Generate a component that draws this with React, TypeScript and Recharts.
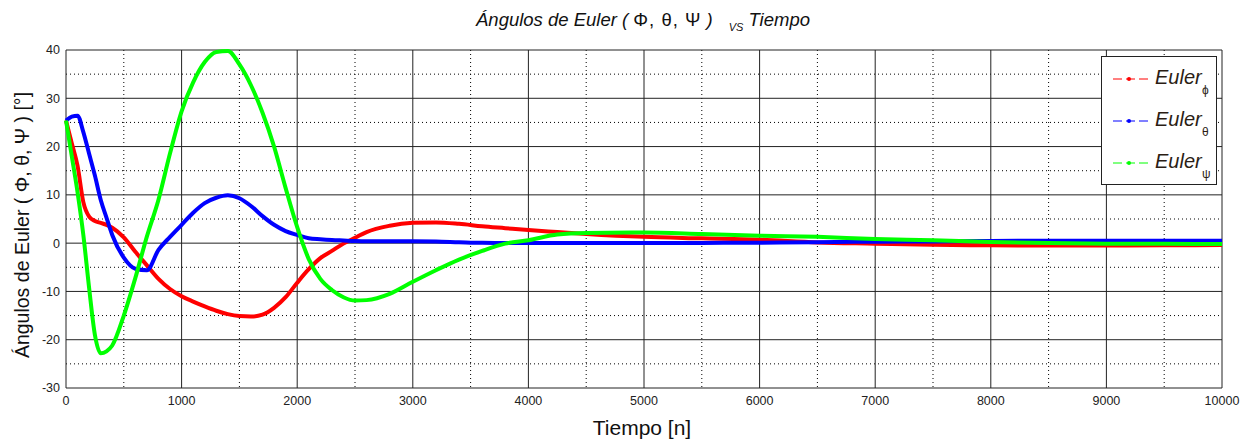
import React from 'react';
import { LineChart, Line, XAxis, YAxis, CartesianGrid, Legend } from 'recharts';

// tiempo [n]
const time = [
  0, 50, 100, 150, 200, 250, 300, 350, 400, 500, 600, 700, 800, 900, 1000, 1100, 1200, 1300, 1400,
  1500, 1600, 1700, 1800, 1900, 2000, 2100, 2200, 2300, 2400, 2500, 2600, 2800, 3000, 3200, 3400,
  3600, 3800, 4000, 4250, 4500, 5000, 5500, 6000, 6500, 7000, 7500, 8000, 8500, 9000, 9500, 10000,
];

const phi = [
  25.4, 20.7, 16, 8.5, 5.5, 4.6, 4.2, 3.8, 3.2, 1.2, -1.8, -4.6, -7.4, -9.5, -11, -12.1, -13.1, -14,
  -14.7, -15.1, -15.2, -14.8, -13.4, -11.2, -8.2, -5.4, -3.1, -1.6, -0.1, 1.1, 2.3, 3.6, 4.2, 4.3, 4.0,
  3.5, 3.1, 2.7, 2.3, 1.9, 1.3, 1.0, 0.7, 0.15, -0.1, -0.35, -0.45, -0.5, -0.5, -0.45, -0.4,
];

const theta = [
  25.4, 26.2, 26.4, 23, 18.5, 14, 9, 5.3, 1.7, -3, -5.3, -5.6, -1.4, 1.3, 3.8, 6.3, 8.3, 9.4, 9.9,
  9.3, 7.7, 5.6, 3.8, 2.5, 1.7, 1.0, 0.8, 0.65, 0.55, 0.45, 0.4, 0.4, 0.4, 0.35, 0.2, 0.07, 0.05, 0.05,
  0.05, 0.05, 0.05, 0.05, 0.1, 0.2, 0.3, 0.35, 0.45, 0.5, 0.5, 0.5, 0.5,
];

const psi = [
  25.4, 18, 10.5, 1.7, -9.3, -19, -22.8, -22.4, -21.2, -15, -7.2, 1.4, 9, 18.6, 27.3, 33.3, 37.5, 39.6,
  39.8, 37, 32.7, 27, 20, 11.4, 3.3, -3.3, -7.4, -9.7, -11.2, -11.9, -11.8, -10.5, -8, -5.6, -3.4, -1.6,
  -0.1, 0.6, 1.8, 2.1, 2.2, 1.9, 1.55, 1.3, 0.86, 0.6, 0.25, 0.05, -0.1, -0.15, -0.17,
];

const xTicks = [0, 1000, 2000, 3000, 4000, 5000, 6000, 7000, 8000, 9000, 10000];
const yTicks = [-30, -20, -10, 0, 10, 20, 30, 40];
const xMinor = [500, 1500, 2500, 3500, 4500, 5500, 6500, 7500, 8500, 9500];
const yMinor = [-25, -15, -5, 5, 15, 25, 35];

const seriesKeys = ['phi', 'theta', 'psi'];
const subs: Record<string, string> = { phi: 'ϕ', theta: 'θ', psi: 'ψ' };

const data = time.map((t, i) => ({ t, phi: phi[i], theta: theta[i], psi: psi[i] }));

const font = 'Arial, "Liberation Sans", sans-serif';
const tickStyle = { fill: '#222', fontSize: 12.5, fontFamily: font };

const EulerLegend = (props: any) => {
  const items = props.payload || [];
  const colorOf = (k: string) => (items.find((p: any) => p.dataKey === k) || {}).color;
  return (
    <div
      style={{
        width: 114,
        height: 127,
        border: '1px solid #222',
        background: '#fff',
        position: 'relative',
        fontFamily: font,
      }}
    >
      {seriesKeys.map((k, i) => (
        <div key={k} style={{ position: 'absolute', left: 0, top: 6 + i * 42, width: 114, height: 40 }}>
          <svg width={40} height={40} style={{ position: 'absolute', left: 10, top: 0 }}>
            <line x1={1} y1={16} x2={38} y2={16} stroke={colorOf(k)} strokeWidth={1} strokeDasharray="9 4" />
            <circle cx={17} cy={16} r={2} fill={colorOf(k)} />
          </svg>
          <span
            style={{
              position: 'absolute',
              left: 53,
              top: 3,
              fontSize: 20,
              fontStyle: 'italic',
              color: '#2b1d14',
              lineHeight: '22px',
            }}
          >
            Euler
          </span>
          <span style={{ position: 'absolute', left: 100, top: 20, fontSize: 12, color: '#2b1d14' }}>
            {subs[k]}
          </span>
        </div>
      ))}
    </div>
  );
};

export default function App() {
  return (
    <div style={{ position: 'absolute', left: 0, top: 0, width: 1251, height: 441, background: '#fff', overflow: 'hidden' }}>
      <div
        style={{
          position: 'absolute',
          top: 9,
          left: 0,
          width: 1286,
          textAlign: 'center',
          fontFamily: font,
          fontStyle: 'italic',
          fontSize: 18.5,
          color: '#111',
          whiteSpace: 'nowrap',
        }}
      >
        Ángulos de Euler ( <span style={{ fontStyle: 'normal', letterSpacing: 1 }}>Φ, θ, Ψ</span> )
        <span style={{ fontSize: 11, position: 'relative', top: 5, margin: '0 5px 0 16px' }}>VS</span>
        Tiempo
      </div>
      <div
        style={{
          position: 'absolute',
          left: 22,
          top: 225,
          transform: 'translate(-50%, -50%) rotate(-90deg)',
          fontFamily: font,
          fontSize: 19.5,
          color: '#111',
          whiteSpace: 'nowrap',
        }}
      >
        Ángulos de Euler ( Φ, θ, Ψ ) [°]
      </div>
      <div
        style={{
          position: 'absolute',
          top: 416,
          left: 0,
          width: 1284,
          textAlign: 'center',
          fontFamily: font,
          fontSize: 21,
          color: '#111',
        }}
      >
        Tiempo [n]
      </div>
      <LineChart width={1251} height={441} data={data} margin={{ top: 50, right: 29, bottom: 0, left: 0 }}>
        <CartesianGrid horizontalValues={yMinor} verticalValues={xMinor} stroke="#000" strokeDasharray="1 3" />
        <CartesianGrid horizontalValues={yTicks} verticalValues={xTicks} stroke="#222" />
        <XAxis
          dataKey="t"
          type="number"
          domain={[0, 10000]}
          ticks={xTicks}
          tick={tickStyle}
          tickLine={false}
          axisLine={false}
          height={53}
          interval={0}
        />
        <YAxis
          type="number"
          domain={[-30, 40]}
          ticks={yTicks}
          tick={tickStyle}
          tickLine={false}
          axisLine={false}
          width={66}
          tickMargin={0}
          interval={0}
        />
        <Legend
          layout="vertical"
          align="center"
          verticalAlign="middle"
          content={EulerLegend}
          wrapperStyle={{ position: 'absolute', left: 1101, top: 56, width: 116, height: 129 }}
        />
        <Line type="monotone" dataKey="phi" name="phi" stroke="#ff0000" strokeWidth={4} dot={false} isAnimationActive={false} />
        <Line type="monotone" dataKey="theta" name="theta" stroke="#0000ff" strokeWidth={4} dot={false} isAnimationActive={false} />
        <Line type="monotone" dataKey="psi" name="psi" stroke="#00ff00" strokeWidth={4} dot={false} isAnimationActive={false} />
      </LineChart>
    </div>
  );
}
